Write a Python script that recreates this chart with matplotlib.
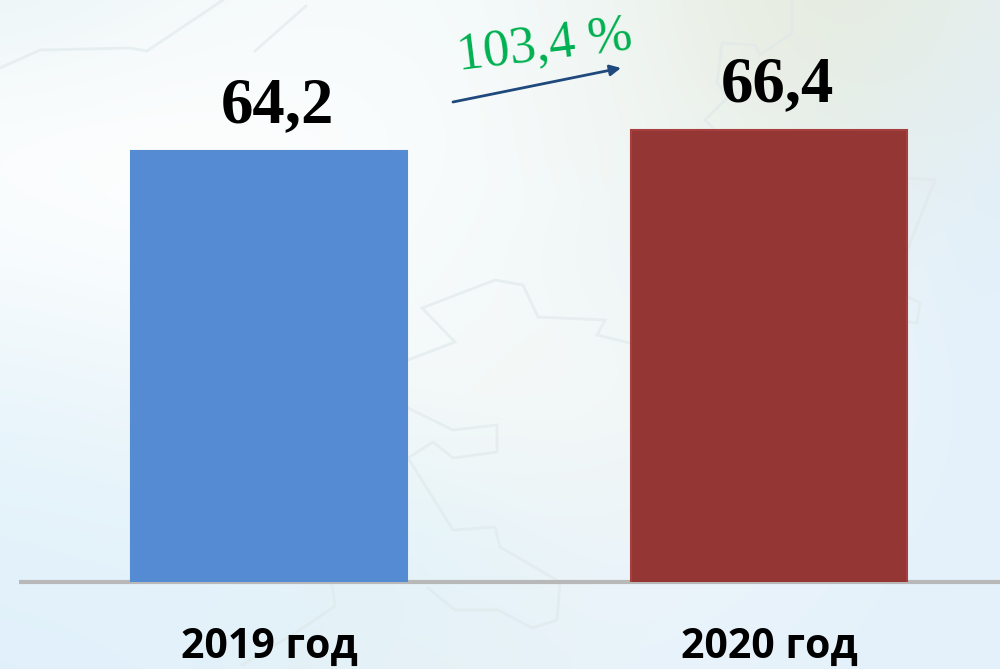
import numpy as np
import matplotlib
matplotlib.use("Agg")
import matplotlib.pyplot as plt
from matplotlib.colors import to_rgb

categories = ["2019 год", "2020 год"]
values = [64.2, 66.4]
value_labels = ["64,2", "66,4"]
bar_colors = ["#558bd3", "#943634"]
edge_colors = ["#558bd3", "#a63f3e"]
growth_label = "103,4 %"

W, H = 1000, 669
fig = plt.figure(figsize=(W/100, H/100), dpi=100)

# background: soft colour field on a coarse grid
bgax = fig.add_axes([0, 0, 1, 1])
bgax.set_xlim(0, W); bgax.set_ylim(H, 0); bgax.axis("off")
field = [
    ["#e9f4f6", "#f4f9f9", "#f6fbfb", "#f0f7f7", "#e5e9d8", "#e6f0ef"],
    ["#fdfefe", "#ffffff", "#fbfdfd", "#f3f8f7", "#e8eee3", "#e2eff8"],
    ["#f6fbfd", "#fcfeff", "#f6fbfc", "#f0f7f8", "#ecf4f8", "#e2f0fb"],
    ["#e9f5fb", "#eef7fa", "#f6f9f8", "#f6f8f5", "#ecf5fa", "#e4f1fb"],
    ["#e3f2fb", "#e6f3fb", "#e0f3fa", "#eff5f8", "#e8f3fb", "#e4f1fb"],
    ["#e0f0fb", "#e2f1fb", "#e6f1f3", "#e8f3fb", "#e6f2fb", "#e4f1fb"],
]
img = np.array([[to_rgb(c) for c in row] for row in field])
bgax.imshow(img, extent=[-100, W + 100, H + 67, -67], aspect="auto",
            interpolation="bicubic", zorder=0)
bgax.set_xlim(0, W); bgax.set_ylim(H, 0)
# faint map outlines (decoration)
outlines = [
    ([408, 455, 422, 495, 523, 538, 605, 597, 630], [360, 342, 308, 280, 285, 317, 320, 335, 343]),
    ([408, 453, 497, 497, 453, 433, 408, 453, 495, 500, 560, 557, 532, 498, 455, 428],
     [408, 430, 425, 452, 458, 442, 458, 530, 527, 547, 582, 620, 628, 610, 610, 588]),
    ([332, 335, 300, 242], [584, 606, 630, 665]),
    ([792, 792, 760, 755, 722, 717, 728, 705, 713], [0, 33, 55, 45, 43, 83, 97, 120, 128]),
    ([908, 935, 908], [178, 180, 248]),
    ([908, 920, 917, 908], [297, 303, 323, 322]),
    ([0, 40, 130, 147, 223], [68, 50, 48, 51, 0]),
    ([306, 255], [6, 51]),
]
for xs, ys in outlines:
    bgax.plot(xs, ys, color="#dfe8ea", lw=2, alpha=0.6, solid_joinstyle="miter", zorder=1)

# chart axes: baseline at y=582
ax = fig.add_axes([0.019, 1 - 582/H, 0.981, 582/H])
ax.patch.set_alpha(0)
ax.set_xlim(19, 1000)
ax.set_ylim(19.05, 80.02)
x = [269, 769]
ax.bar(x, values, width=276, color=bar_colors, edgecolor=edge_colors, linewidth=1.5, zorder=3)
ax.set_xticks([])
ax.set_yticks([])
for s in ["top", "left", "right"]:
    ax.spines[s].set_visible(False)
ax.spines["bottom"].set_color("#b8b8b8")
ax.spines["bottom"].set_linewidth(3)
ax.spines["bottom"].set_capstyle("butt")

for xi, v, lab in zip(x, values, value_labels):
    ax.annotate(lab, (xi + 8, v), xytext=(0, 20.5), textcoords="offset points",
                ha="center", va="baseline", fontsize=46.5, fontweight="bold",
                family="Liberation Serif", color="black", zorder=5)

for xi, lab in zip(x, categories):
    fig.text(xi / W, 1 - 647.5 / H, lab, ha="center", va="center",
             fontsize=29.5, fontweight="bold", family="Open Sans", color="black")

bgax.text(545, 46, growth_label, rotation=7, ha="center", va="center",
          fontsize=38, family="Liberation Serif", color="#00b050", zorder=6,
          rotation_mode="anchor")
bgax.annotate("", xy=(621, 68), xytext=(453, 102),
              arrowprops=dict(arrowstyle="-|>", color="#1f497d", lw=2, mutation_scale=16,
                              shrinkA=0, shrinkB=0), zorder=6)

fig.savefig("out.png", dpi=100)
